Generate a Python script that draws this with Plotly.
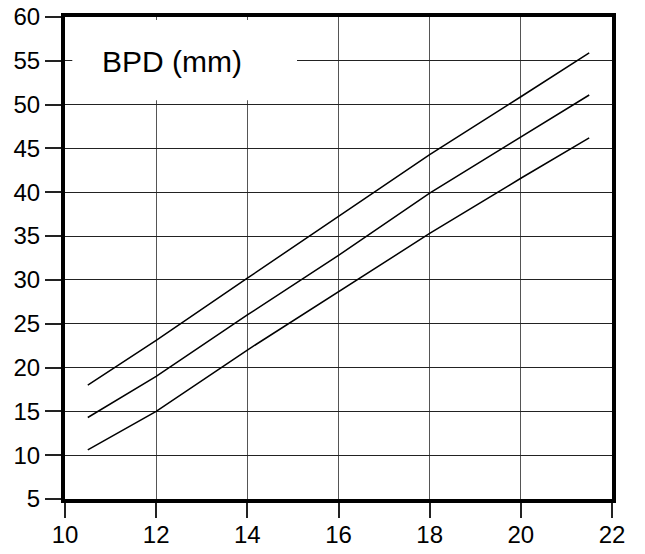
import plotly.graph_objects as go

# Data
ga_weeks = [10.5, 12, 14, 16, 18, 20, 21.5]
bpd_upper = [18.0, 23.1, 30.2, 37.2, 44.3, 50.9, 55.9]
bpd_middle = [14.3, 19.0, 26.0, 32.8, 39.9, 46.3, 51.1]
bpd_lower = [10.6, 15.0, 22.0, 28.7, 35.3, 41.6, 46.2]

x_ticks = [10, 12, 14, 16, 18, 20, 22]
y_ticks = [5, 10, 15, 20, 25, 30, 35, 40, 45, 50, 55, 60]
label_text = "BPD (mm)"

FONT = "Liberation Sans, Arial, Helvetica, sans-serif"

fig = go.Figure()
for ys in (bpd_upper, bpd_middle, bpd_lower):
    fig.add_trace(go.Scatter(x=ga_weeks, y=ys, mode="lines",
                             line=dict(color="black", width=1.5),
                             showlegend=False, hoverinfo="skip"))

# white label box covering the grid
fig.add_shape(type="rect", xref="x", yref="y",
              x0=10.16, x1=15.09, y0=50.5, y1=59.65,
              fillcolor="white", line=dict(width=0), layer="above")
fig.add_annotation(x=12.35, y=54.9, xref="x", yref="y", text=label_text,
                   showarrow=False, font=dict(family=FONT, size=30, color="black"))

fig.update_layout(
    width=645, height=554,
    margin=dict(l=65, r=33, t=17, b=55),
    paper_bgcolor="white", plot_bgcolor="white",
    font=dict(family=FONT, size=24, color="black"),
)
fig.update_xaxes(range=[10, 22], tickvals=x_ticks, ticks="outside", ticklen=15,
                 tickwidth=1.5, tickcolor="#222", automargin=False,
                 ticklabelstandoff=-4,
                 showgrid=True, gridcolor="#555", gridwidth=1,
                 showline=True, linecolor="black", linewidth=4, mirror=True,
                 zeroline=False, tickfont=dict(size=24))
fig.update_yaxes(range=[5, 60], tickvals=y_ticks, ticks="outside", ticklen=16,
                 tickwidth=1.5, tickcolor="#222", automargin=False,
                 showgrid=True, gridcolor="#222", gridwidth=1,
                 showline=True, linecolor="black", linewidth=4, mirror=True,
                 zeroline=False, tickfont=dict(size=24))

fig.write_html("out.html", config={"displayModeBar": False},
               post_script="document.body.style.margin='0';document.body.style.overflow='hidden';")
